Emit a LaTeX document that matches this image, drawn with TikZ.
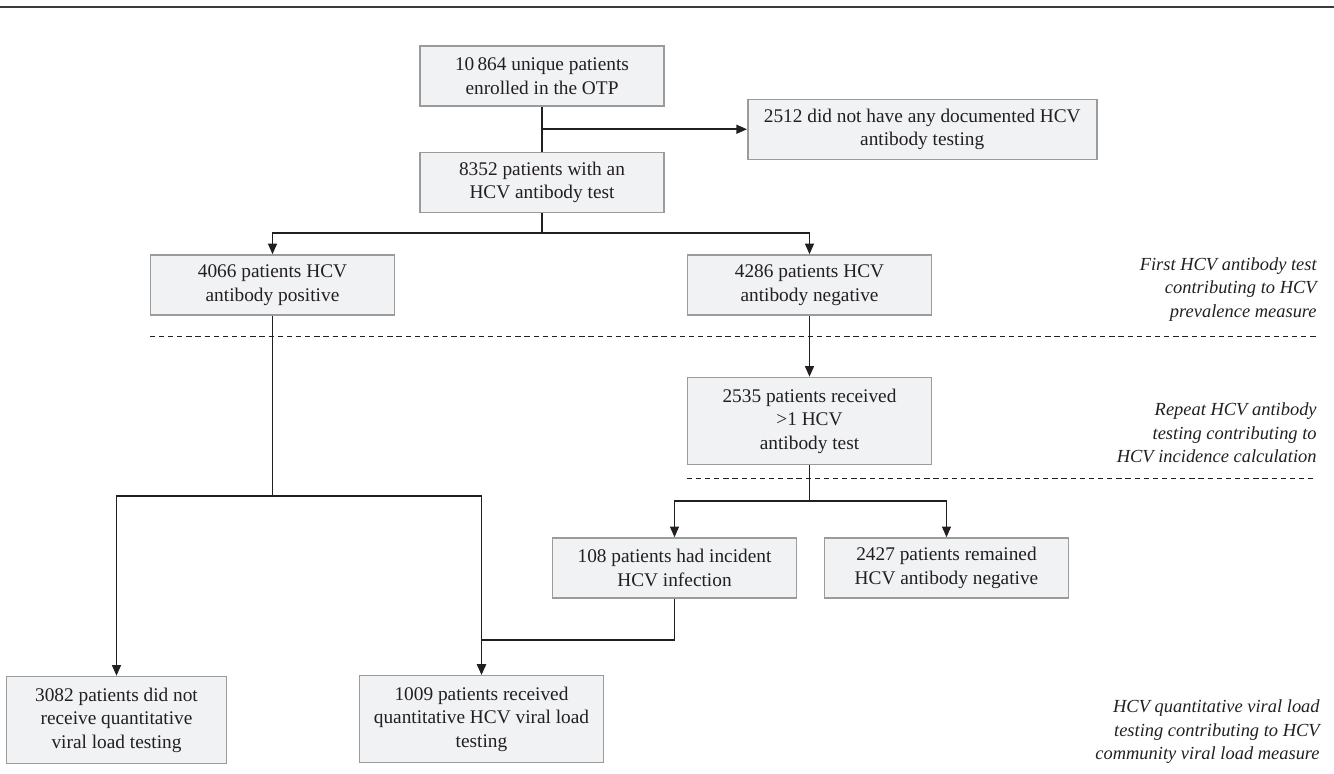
\documentclass[tikz,border=0pt]{standalone}
\usepackage{fontspec}
\setmainfont{Liberation Serif}
\usepackage{tikz}
\usetikzlibrary{arrows.meta, positioning, calc}

\definecolor{boxfill}{HTML}{F1F2F4}
\definecolor{boxline}{HTML}{9B9B9B}
\definecolor{rulegray}{HTML}{3A3A3A}
\definecolor{inkgray}{HTML}{231F20}

\begin{document}
\begin{tikzpicture}[
  node distance=0.9cm and 1.5cm,
  every node/.style={font=\fontsize{11}{13.4}\selectfont, text=inkgray},
  boxstep/.style={draw=boxline, line width=0.85pt, fill=boxfill, minimum width=4.88cm, minimum height=1.2cm, align=center, inner sep=2pt},
  tallbox/.style={boxstep, minimum height=1.74cm},
  note/.style={font=\fontsize{10.5}{13.4}\selectfont\itshape, align=right, inner sep=0pt},
  arrow/.style={-{Triangle[length=6pt, width=5pt]}, line width=1pt, inkgray},
  link/.style={line width=1pt, inkgray},
  divider/.style={dash pattern=on 3pt off 2.2pt, line width=0.6pt, inkgray},
]

\useasboundingbox (0,0) rectangle (26.68,-15.46);
\draw[rulegray, line width=1.2pt] (0,-0.14) -- (26.68,-0.14);

% Enrolment and first test
\node[boxstep] (enrol) at (10.84,-1.52) {10\,864 unique patients\\enrolled in the OTP};
\node[boxstep, below=of enrol] (tested) {8352 patients with an\\HCV antibody test};
\coordinate (split) at ($(enrol.south)!0.5!(tested.north)$);
\node[boxstep, minimum width=6.98cm, right=4.1cm of split] (untested) {2512 did not have any documented HCV\\antibody testing};

% Antibody result
\node[boxstep, below left=0.82cm and 0.48cm of tested] (abpos) {4066 patients HCV\\antibody positive};
\node[boxstep, below right=0.82cm and 0.44cm of tested] (abneg) {4286 patients HCV\\antibody negative};

% Repeat testing
\node[tallbox, below=1.22cm of abneg] (repeat) {2535 patients received\\>1 HCV\\antibody test};
\node[boxstep, below=1.44cm of repeat, xshift=-2.7cm] (incident) {108 patients had incident\\HCV infection};
\node[boxstep, below=1.44cm of repeat, xshift=2.74cm] (stayneg) {2427 patients remained\\HCV antibody negative};

% Viral load
\node[tallbox, minimum width=4.4cm, below=7.2cm of abpos, xshift=-3.12cm] (novl) {3082 patients did not\\receive quantitative\\viral load testing};
\node[tallbox, below=7.18cm of abpos, xshift=4.18cm] (vl) {1009 patients received\\quantitative HCV viral load\\testing};

% Arrows
\draw[link] (enrol) -- (tested);
\draw[arrow] (split) -- (untested);
\draw[arrow] (tested.south) -- ++(0,-0.4) -| (abpos.north);
\draw[arrow] (tested.south) -- ++(0,-0.4) -| (abneg.north);
\draw[arrow] (abneg) -- (repeat);
\draw[arrow] (repeat.south) -- ++(0,-0.72) -| (incident.north);
\draw[arrow] (repeat.south) -- ++(0,-0.72) -| (stayneg.north);
\draw[arrow] (abpos.south) -- ++(0,-3.6) -| (novl.north);
\draw[arrow] (abpos.south) -- ++(0,-3.6) -| (vl.north);
\draw[arrow] (incident.south) -- ++(0,-0.82) -| (vl.north);

% Separators
\coordinate (rim) at (26.34,0);
\coordinate (sep1) at ([yshift=-0.42cm]abpos.south west);
\coordinate (sep2) at ([yshift=-0.26cm]repeat.south west);
\coordinate (end1) at (sep1 -| rim);
\coordinate (end2) at (sep2 -| rim);
\draw[divider] (sep1) -- (end1);
\draw[divider] (sep2) -- (end2);

% Stage notes
\node[note, above left=0.3cm and 0cm of end1] (prevnote) {First HCV antibody test\\contributing to HCV\\prevalence measure};
\node[note, above left=0.3cm and 0cm of end2] (incnote) {Repeat HCV antibody\\testing contributing to\\HCV incidence calculation};
\node[note, anchor=south east] (vlnote) at (26.4,-15.28) {HCV quantitative viral load\\testing contributing to HCV\\community viral load measure};

\end{tikzpicture}
\end{document}
